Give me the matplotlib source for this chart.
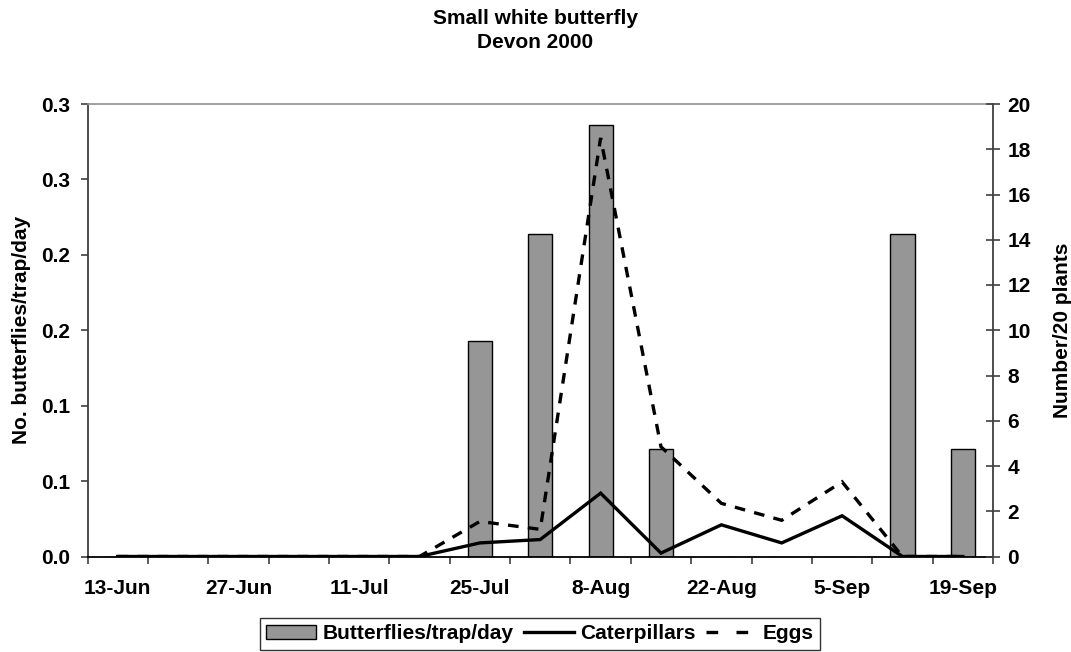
import numpy as np
import matplotlib
matplotlib.use('Agg')
import matplotlib.pyplot as plt
from matplotlib.patches import Patch
from matplotlib.lines import Line2D

# Data (weekly samples)
dates = ['13-Jun', '20-Jun', '27-Jun', '4-Jul', '11-Jul', '18-Jul', '25-Jul', '1-Aug',
         '8-Aug', '15-Aug', '22-Aug', '29-Aug', '5-Sep', '12-Sep', '19-Sep']
butterflies = [0, 0, 0, 0, 0, 0, 0.143, 0.214, 0.286, 0.071, 0, 0, 0, 0.214, 0.071]
caterpillars = [0, 0, 0, 0, 0, 0, 0.6, 0.75, 2.8, 0.15, 1.4, 0.6, 1.8, 0, 0]
eggs = [0, 0, 0, 0, 0, 0, 1.55, 1.2, 18.5, 4.85, 2.35, 1.6, 3.3, 0, 0]

left_ticks = [0, 0.05, 0.10, 0.15, 0.20, 0.25, 0.30]
left_tick_labels = ['0.0', '0.1', '0.1', '0.2', '0.2', '0.3', '0.3']
right_ticks = list(range(0, 21, 2))

plt.rcParams['font.family'] = ['Liberation Sans', 'DejaVu Sans']
plt.rcParams['font.weight'] = 'bold'
plt.rcParams['font.size'] = 15

W, H, DPI = 1071, 652, 100

fig = plt.figure(figsize=(W / DPI, H / DPI), dpi=DPI)
ax = fig.add_axes([87.5 / W, 95.5 / H, 905.5 / W, 452.5 / H])
ax2 = ax.twinx()

x = np.arange(len(dates))

# bars on the left axis
ax.bar(x, butterflies, width=0.4, color='#969696', edgecolor='black', linewidth=1, zorder=2)
ax.set_xlim(-0.5, len(dates) - 0.5)
ax.set_ylim(0, 0.3)
ax.set_yticks(left_ticks)
ax.set_yticklabels(left_tick_labels)

# lines on the right axis
ax2.set_ylim(0, 20)
ax2.set_yticks(right_ticks)
ax2.plot(x, caterpillars, color='black', linewidth=2.4, solid_joinstyle='miter')
ax2.plot(x, eggs, color='black', linewidth=2.4, linestyle=(0, (3.2, 2.8)),
         dash_capstyle='butt', dash_joinstyle='miter')

# x axis: ticks between categories, labels on every second date
ax.set_xticks(np.arange(-0.5, len(dates), 1))
ax.set_xticklabels([])
ax.set_xticks(x[::2], minor=True)
ax.set_xticklabels(dates[::2], minor=True)
ax.tick_params(axis='x', which='major', direction='out', length=5, width=1.2, color='#404040')
ax.tick_params(axis='x', which='minor', length=0, pad=16)
ax.tick_params(axis='y', direction='out', length=5, width=1.2, color='#404040', pad=7.5)
ax2.tick_params(axis='y', direction='inout', length=9.5, width=1.2, color='#404040', pad=5.5)

# spines
ax.spines['left'].set_color('#404040')
ax.spines['left'].set_linewidth(1.3)
ax.spines['bottom'].set_color('black')
ax.spines['bottom'].set_linewidth(1.3)
ax.spines['top'].set_color('#909090')
ax.spines['top'].set_linewidth(1.2)
ax.spines['right'].set_visible(False)
ax2.spines['right'].set_color('#404040')
ax2.spines['right'].set_linewidth(1.3)
for s in ['left', 'top', 'bottom']:
    ax2.spines[s].set_visible(False)

ax.set_ylabel('No. butterflies/trap/day', fontsize=15, fontweight='bold')
ax.yaxis.set_label_coords(-0.062, 0.5)
ax2.set_ylabel('Number/20 plants', fontsize=15, fontweight='bold')
ax2.yaxis.set_label_coords(1.066, 0.5)

fig.text(0.5, 1 - 9 / H, 'Small white butterfly\nDevon 2000', ha='center', va='top',
         fontsize=15, fontweight='bold', linespacing=1.3)

handles = [Patch(facecolor='#969696', edgecolor='black', linewidth=1),
           Line2D([], [], color='black', linewidth=2.4),
           Line2D([], [], color='black', linewidth=2.4, linestyle=(0, (3.5, 5.5)))]
labels = ['Butterflies/trap/day', 'Caterpillars', 'Eggs']
leg = fig.legend(handles, labels, loc='upper center', bbox_to_anchor=(540 / W, 1 - 618 / H),
                 ncol=3, frameon=True, fancybox=False, shadow=False, borderaxespad=0,
                 borderpad=0.3, handlelength=2.4, handletextpad=0.3, columnspacing=0.5,
                 fontsize=15)
leg.get_frame().set_edgecolor('black')
leg.get_frame().set_linewidth(1)

plt.savefig('out.png', dpi=DPI)
